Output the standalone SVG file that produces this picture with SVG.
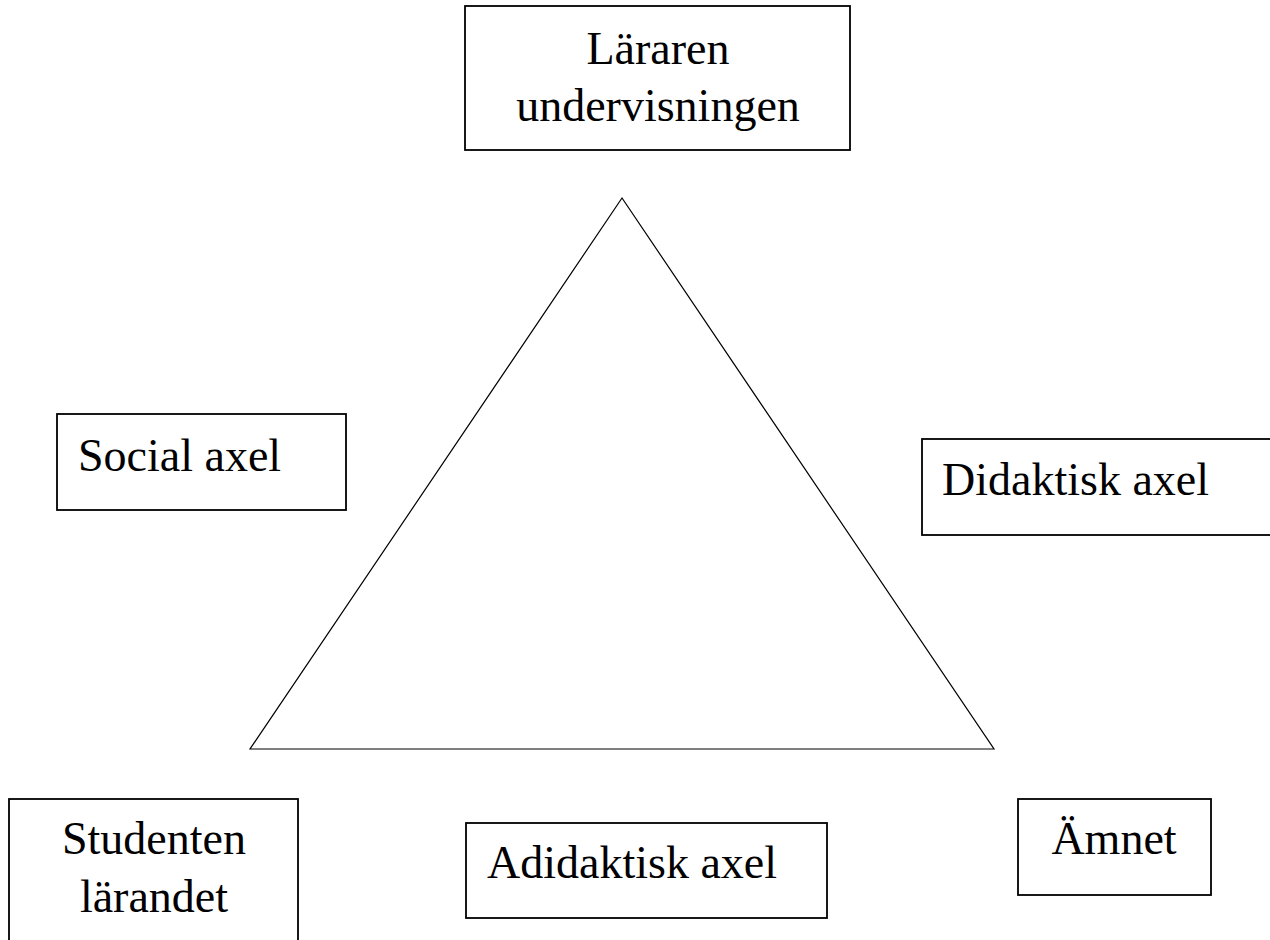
<svg xmlns="http://www.w3.org/2000/svg" width="1270" height="940" viewBox="0 0 1270 940">
<style>
.box{fill:#fff;stroke:#000;stroke-width:1.8}
.t{font-family:"Liberation Serif","Times New Roman",serif;font-size:46px;fill:#000}
.c{text-anchor:middle}
.tri{fill:none;stroke:#000;stroke-width:1.2;stroke-linejoin:miter}
</style>
<rect width="1270" height="940" fill="#fff"/>
<g id="connectors">
<polygon class="tri" points="622,198 250,749 994,749"/>
</g>
<g id="lararen">
<rect class="box" x="465" y="6" width="385" height="144"/>
<text class="t c" x="658" y="64">Läraren</text>
<text class="t c" x="658" y="121">undervisningen</text>
</g>
<g id="social">
<rect class="box" x="57" y="414" width="289" height="96"/>
<text class="t" x="78" y="471">Social axel</text>
</g>
<g id="didaktisk">
<rect class="box" x="922" y="439" width="360" height="96"/>
<text class="t" x="942" y="495">Didaktisk axel</text>
</g>
<g id="studenten">
<rect class="box" x="9" y="799" width="289" height="160"/>
<text class="t c" x="154" y="854">Studenten</text>
<text class="t c" x="154" y="912">lärandet</text>
</g>
<g id="adidaktisk">
<rect class="box" x="466" y="823" width="361" height="95"/>
<text class="t" x="487" y="878">Adidaktisk axel</text>
</g>
<g id="amnet">
<rect class="box" x="1018" y="799" width="193" height="96"/>
<text class="t c" x="1114" y="854">Ämnet</text>
</g>
</svg>
